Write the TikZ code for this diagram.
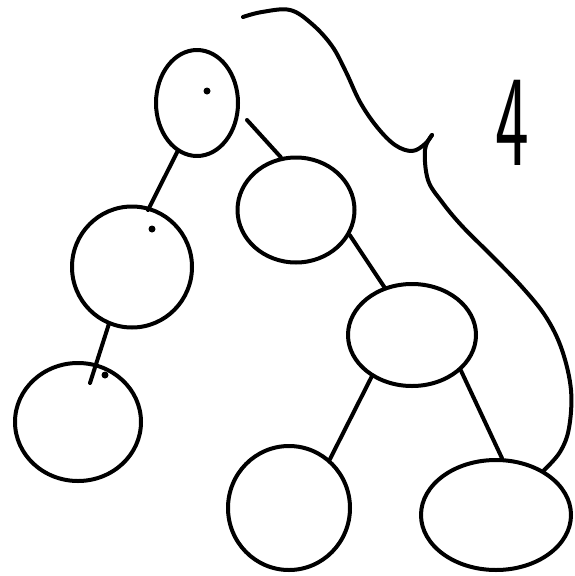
\documentclass[tikz,border=0pt]{standalone}
\usepackage{graphicx}
\usetikzlibrary{shapes.geometric}
\begin{document}
\begin{tikzpicture}[x=1pt,y=-1pt,line cap=round,line join=round,
  blob/.style={draw,ellipse,inner sep=0pt,line width=4pt},
  dotmark/.style={circle,fill,inner sep=0pt,minimum size=7pt},
  link/.style={draw,line width=4pt}]
\useasboundingbox (0,0) rectangle (574,576);
% nodes
\node[blob,minimum width=82pt,minimum height=106pt] (A) at (197,103) {};
\node[blob,minimum width=120pt,minimum height=121pt] (B) at (132,267) {};
\node[blob,minimum width=126pt,minimum height=118pt] (C) at (78,422) {};
\node[blob,minimum width=117pt,minimum height=105pt] (D) at (296,210) {};
\node[blob,minimum width=128pt,minimum height=102pt] (E) at (412,335) {};
\node[blob,minimum width=122pt,minimum height=124pt] (F) at (289,508) {};
\node[blob,minimum width=150pt,minimum height=110pt] (G) at (496,515) {};
% dots
\node[dotmark] (da) at (207,91) {};
\node[dotmark] (db) at (152,229) {};
\node[dotmark] (dc) at (105,375) {};
% label
\node[font=\fontsize{130}{130}\selectfont\sffamily,inner sep=0pt] (four) at (512,123) {\scalebox{0.55}[1]{4}};
% connectors
\draw[link] (A.248) -- (148,210);
\draw[link] (B.248) -- (90,383);
\coordinate (s) at (247,120);
\draw[link] (s) -- (D.106);
\draw[link] (D.335) -- (E.120);
\draw[link] (E.226) -- (F.50);
\draw[link] (E.324) -- (G.84);
% big curve
\coordinate (t) at (243,17);
\coordinate (k) at (432,135);
\draw[link] plot[smooth,tension=0.6] coordinates {(t) (262,12) (290,10) (312,24) (332,46) (346,72) (360,102) (377,127) (395,145) (412,151) (425,144) (k)};
\draw[link] plot[smooth,tension=0.6] coordinates {(k) (425,150) (428,180) (442,202) (462,226) (492,256) (522,287) (546,317) (562,350) (571,390) (569,428) (560,452) (G.43)};
\end{tikzpicture}
\end{document}
